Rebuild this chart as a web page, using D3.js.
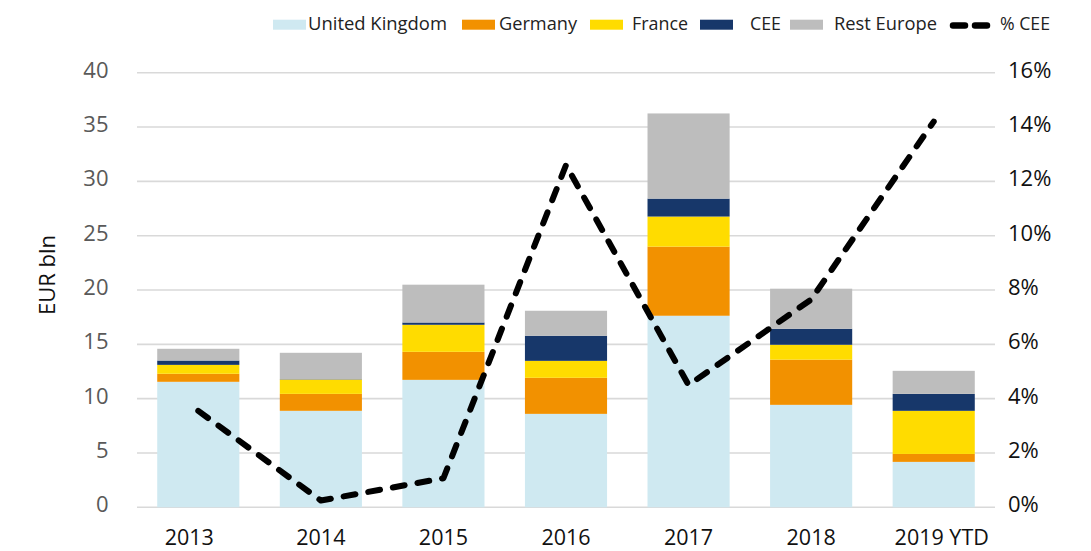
<!DOCTYPE html>
<html>
<head>
<meta charset="utf-8">
<script src="https://cdn.jsdelivr.net/npm/d3@7"></script>
<style>
  html, body { margin: 0; padding: 0; background: #fff; }
  svg { display: block; }
</style>
</head>
<body>
<svg id="chart" width="1091" height="551"></svg>
<script>
// Years on the category axis
const years = ["2013", "2014", "2015", "2016", "2017", "2018", "2019 YTD"];

// Investment by region, EUR bln (stacked)
const unitedKingdom = [11.55, 8.88, 11.73, 8.60, 17.63, 9.43, 4.18];
const germany       = [0.74, 1.56, 2.58, 3.32, 6.36, 4.16, 0.73];
const france        = [0.82, 1.32, 2.49, 1.56, 2.77, 1.37, 3.97];
const cee           = [0.40, 0.03, 0.21, 2.31, 1.65, 1.47, 1.56];
const restEurope    = [1.08, 2.43, 3.48, 2.30, 7.84, 3.69, 2.12];

// CEE share of total, percent (right axis)
const ceeShare = [3.55, 0.25, 1.07, 12.6, 4.5, 7.65, 14.2];

// Axis ticks
const leftTicks = [0, 5, 10, 15, 20, 25, 30, 35, 40];
const rightTicks = [0, 2, 4, 6, 8, 10, 12, 14, 16];

const seriesNames = ["United Kingdom", "Germany", "France", "CEE", "Rest Europe"];
const seriesValues = [unitedKingdom, germany, france, cee, restEurope];
const colors = ["#cfe9f1", "#f29100", "#ffdc00", "#17376a", "#bdbdbd"];

const rows = years.map((y, i) => {
  const r = { year: y };
  seriesNames.forEach((n, k) => r[n] = seriesValues[k][i]);
  return r;
});

const svg = d3.select("#chart");
const plot = { left: 137, right: 995, top: 72.7, bottom: 507.3 };

const x = d3.scaleBand().domain(years).range([plot.left, plot.right]).paddingInner(0.33).paddingOuter(0.165);
const y = d3.scaleLinear().domain([0, 40]).range([plot.bottom, plot.top]);
const y2 = d3.scaleLinear().domain([0, 16]).range([plot.bottom, plot.top]);

// Gridlines
svg.append("g")
  .selectAll("line")
  .data(leftTicks)
  .join("line")
  .attr("x1", plot.left).attr("x2", plot.right)
  .attr("y1", d => y(d)).attr("y2", d => y(d))
  .attr("stroke", "#d9d9d9").attr("stroke-width", 1.6);

// Stacked bars
const stack = d3.stack().keys(seriesNames)(rows);
svg.append("g")
  .selectAll("g")
  .data(stack)
  .join("g")
  .attr("fill", (d, i) => colors[i])
  .selectAll("rect")
  .data(d => d)
  .join("rect")
  .attr("x", d => x(d.data.year))
  .attr("width", x.bandwidth())
  .attr("y", d => y(d[1]))
  .attr("height", d => Math.max(0, y(d[0]) - y(d[1])));

// % CEE line
const line = d3.line()
  .x((d, i) => x(years[i]) + x.bandwidth() / 2)
  .y(d => y2(d));
svg.append("path")
  .datum(ceeShare)
  .attr("d", line)
  .attr("fill", "none")
  .attr("stroke", "#000")
  .attr("stroke-width", 6)
  .attr("stroke-linecap", "round")
  .attr("stroke-linejoin", "round")
  .attr("stroke-dasharray", "12,13");

const tickFont = "'Open Sans', 'DejaVu Sans', sans-serif";

// Left axis
const leftAxis = d3.axisLeft(y).tickValues(leftTicks).tickSize(0).tickPadding(28.5);
const gl = svg.append("g").attr("transform", `translate(${plot.left},0)`).call(leftAxis);
gl.select(".domain").remove();
gl.selectAll("text").attr("font-family", tickFont).attr("font-size", 22).attr("dy", "0.2em").attr("fill", "#595959");

// Right axis
const rightAxis = d3.axisRight(y2).tickValues(rightTicks).tickSize(0).tickPadding(13).tickFormat(d => d + "%");
const gr = svg.append("g").attr("transform", `translate(${plot.right},0)`).call(rightAxis);
gr.select(".domain").remove();
gr.selectAll("text").attr("font-family", tickFont).attr("font-size", 22).attr("dy", "0.2em").attr("fill", "#111");

// Bottom axis; the outermost labels sit a little further out
const bottomAxis = d3.axisBottom(x).tickSize(0);
const gb = svg.append("g").attr("transform", `translate(0,${plot.bottom})`).call(bottomAxis);
gb.select(".domain").remove();
gb.selectAll("text").attr("font-family", tickFont).attr("font-size", 21.5).attr("dy", "0")
  .attr("y", 37.5).attr("fill", "#111")
  .attr("x", (d, i) => i === 0 ? -9 : (i === years.length - 1 ? 8 : 0));

// Left axis title
svg.append("text")
  .attr("transform", "translate(55,275) rotate(-90)")
  .attr("text-anchor", "middle")
  .attr("font-family", tickFont)
  .attr("font-size", 22)
  .attr("fill", "#111")
  .text("EUR bln");

// Legend
const legendFont = "'Open Sans', 'DejaVu Sans', sans-serif";
const legendItems = [
  { name: "United Kingdom", color: colors[0], sx: 273, tx: 308, tw: 139 },
  { name: "Germany", color: colors[1], sx: 462, tx: 499, tw: 78 },
  { name: "France", color: colors[2], sx: 590, tx: 632, tw: 56 },
  { name: "CEE", color: colors[3], sx: 700, tx: 750, tw: 31 },
  { name: "Rest Europe", color: colors[4], sx: 790, tx: 834, tw: 103 }
];
const lg = svg.append("g");
legendItems.forEach(it => {
  lg.append("rect").attr("x", it.sx).attr("y", 19.7).attr("width", 33).attr("height", 10).attr("fill", it.color);
  lg.append("text").attr("x", it.tx).attr("y", 29.7)
    .attr("font-family", legendFont).attr("font-size", 19).attr("fill", "#222")
    .attr("textLength", it.tw).attr("lengthAdjust", "spacingAndGlyphs")
    .text(it.name);
});
lg.append("line").attr("x1", 953).attr("x2", 987).attr("y1", 25.5).attr("y2", 25.5)
  .attr("stroke", "#000").attr("stroke-width", 6.5).attr("stroke-linecap", "round")
  .attr("stroke-dasharray", "12,10");
lg.append("text").attr("x", 1000).attr("y", 29.7)
  .attr("font-family", legendFont).attr("font-size", 19).attr("fill", "#222")
  .attr("textLength", 50).attr("lengthAdjust", "spacingAndGlyphs")
  .text("% CEE");
</script>
</body>
</html>
